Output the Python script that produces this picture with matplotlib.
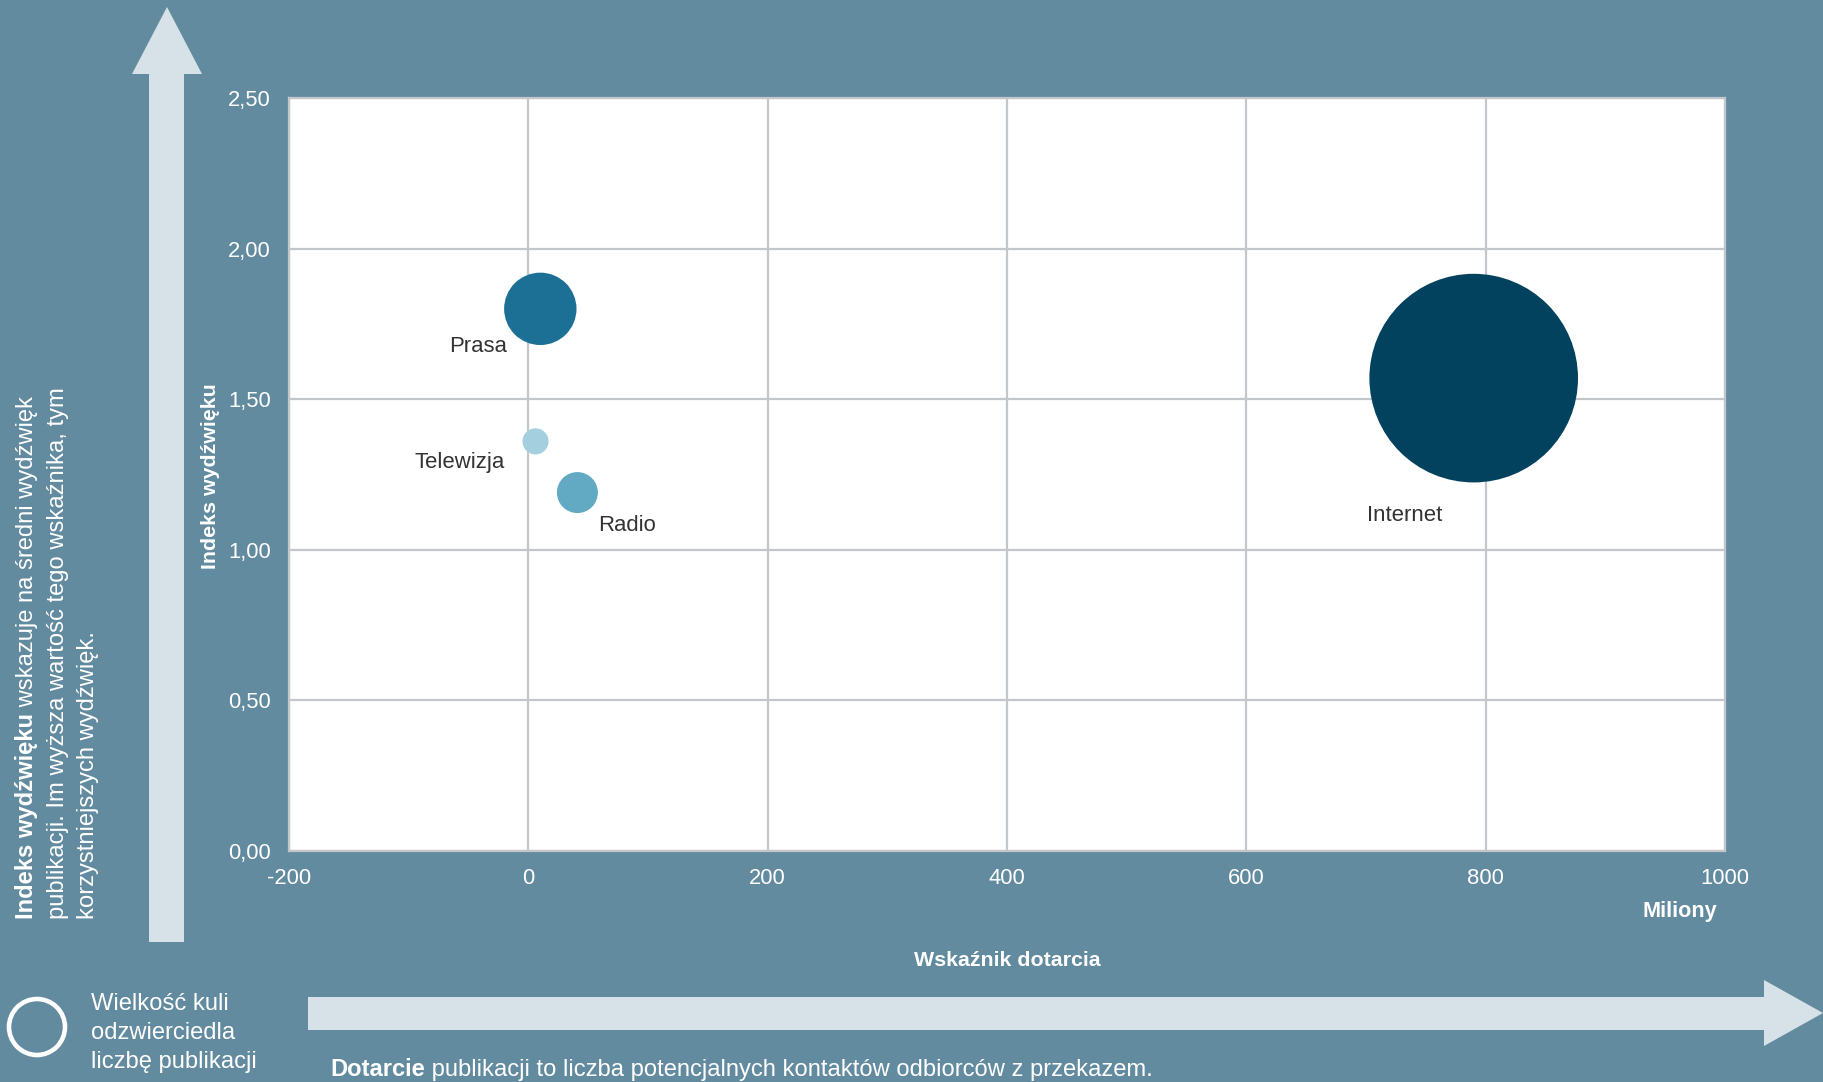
import matplotlib
matplotlib.use('Agg')
import matplotlib.pyplot as plt
from matplotlib.patches import Polygon, Circle

plt.rcParams['font.family'] = ['Liberation Sans', 'DejaVu Sans']

# ---- data ----
categories = ['Prasa', 'Telewizja', 'Radio', 'Internet']
reach_mln = [10, 6, 41, 790]
sentiment = [1.80, 1.36, 1.19, 1.57]
publications = [1310, 170, 420, 10880]
colors = ['#1d7095', '#a3cfdf', '#62aac4', '#02425f']
label_offsets = [(-62, -38), (-76, -21), (50, -33), (-69, -137)]
x_ticks = [-200, 0, 200, 400, 600, 800, 1000]
x_tick_labels = ['-200', '0', '200', '400', '600', '800', '1000']
y_ticks = [0, 0.5, 1.0, 1.5, 2.0, 2.5]
y_tick_labels = ['0,00', '0,50', '1,00', '1,50', '2,00', '2,50']

BG = '#628ba0'
ARROW = '#d6e2e8'
GRID = '#c3c7cb'
W, H = 1823, 1082

fig = plt.figure(figsize=(W / 100, H / 100), dpi=100, facecolor=BG)

def fx(x):
    return x / W

def fy(y):
    return 1 - y / H

# overlay for arrows
ov = fig.add_axes([0, 0, 1, 1], zorder=0)
ov.set_xlim(0, W)
ov.set_ylim(H, 0)
ov.axis('off')
ov.patch.set_alpha(0)

up_arrow = [(167, 7), (202, 74), (184, 74), (184, 942), (149, 942), (149, 74), (132, 74)]
ov.add_patch(Polygon(up_arrow, closed=True, facecolor=ARROW, edgecolor='none'))
right_arrow = [(308, 997), (1764, 997), (1764, 980), (1823, 1013), (1764, 1046), (1764, 1030), (308, 1030)]
ov.add_patch(Polygon(right_arrow, closed=True, facecolor=ARROW, edgecolor='none'))
ov.add_patch(Circle((37, 1027), 28, facecolor='none', edgecolor='white', linewidth=3.3))

# main axes
ax = fig.add_axes([fx(289), fy(851), (1725 - 289) / W, (851 - 98) / H], zorder=2)
ax.set_facecolor('white')
ax.set_xlim(-200, 1000)
ax.set_ylim(0, 2.5)
ax.set_xticks(x_ticks)
ax.set_xticklabels(x_tick_labels)
ax.set_yticks(y_ticks)
ax.set_yticklabels(y_tick_labels)
ax.grid(True, color=GRID, linewidth=1.6)
ax.set_axisbelow(True)
for s in ax.spines.values():
    s.set_color(GRID)
    s.set_linewidth(1.6)
ax.tick_params(axis='both', length=0, labelsize=15.8, labelcolor='white')
ax.tick_params(axis='y', pad=13)
ax.tick_params(axis='x', pad=12)

sizes = [p * 2.0736 for p in publications]
ax.scatter(reach_mln, sentiment, s=sizes, c=colors, linewidths=0, zorder=3)
for cat, x, y, off in zip(categories, reach_mln, sentiment, label_offsets):
    ax.annotate(cat, (x, y), xytext=off, textcoords='offset pixels',
                ha='center', va='center', fontsize=15.9, color='#333333', zorder=4)

# axis titles
fig.text(fx(210), fy(476), 'Indeks wydźwięku', rotation=90, ha='center', va='center',
         fontsize=15.4, fontweight='bold', color='white')
fig.text(fx(1007), fy(960), 'Wskaźnik dotarcia', ha='center', va='center',
         fontsize=15.4, fontweight='bold', color='white')
fig.text(fx(1680), fy(911), 'Miliony', ha='center', va='center',
         fontsize=15.6, fontweight='bold', color='white')

# legend text
for i, line in enumerate(['Wielkość kuli', 'odzwierciedla', 'liczbę publikacji']):
    fig.text(fx(91), fy(1004 + i * 29), line, ha='left', va='center',
             fontsize=17.1, color='white')

fig.canvas.draw()
renderer = fig.canvas.get_renderer()

FS = 17.1
# bottom note with bold start
t1 = fig.text(fx(330), fy(1076), 'Dotarcie', ha='left', va='baseline',
              fontsize=FS, fontweight='bold', color='white')
bb = t1.get_window_extent(renderer)
fig.text(bb.x1 / W, fy(1076), ' publikacji to liczba potencjalnych kontaktów odbiorców z przekazem.',
         ha='left', va='baseline', fontsize=FS, color='white')

# left rotated description (baseline-anchored)
kw = dict(rotation=90, rotation_mode='anchor', ha='left', va='baseline',
          fontsize=FS, color='white')
r1 = fig.text(fx(33), fy(919), 'Indeks wydźwięku', fontweight='bold', **kw)
bb = r1.get_window_extent(renderer)
fig.text(fx(33), bb.y1 / H, ' wskazuje na średni wydźwięk', **kw)
fig.text(fx(64), fy(919), 'publikacji. Im wyższa wartość tego wskaźnika, tym', **kw)
fig.text(fx(94), fy(919), 'korzystniejszych wydźwięk.', **kw)

fig.savefig('out.png', dpi=100, facecolor=BG)
